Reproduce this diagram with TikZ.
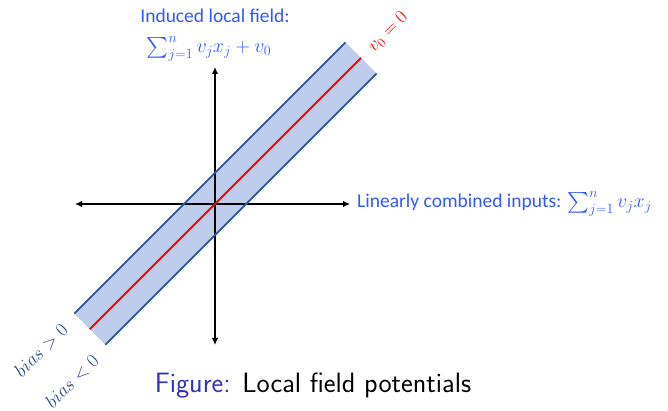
\RequirePackage{fix-cm}
\documentclass[tikz,border=0pt]{standalone}
\usepackage{exscale}
\usepackage{fontspec}
\newfontfamily\calibri{Carlito}
\usetikzlibrary{arrows.meta}
\definecolor{txtblue}{RGB}{48,88,255}
\definecolor{bandedge}{RGB}{47,85,151}
\definecolor{bandfill}{RGB}{190,205,235}
\definecolor{biasblue}{RGB}{40,72,140}
\definecolor{figblue}{RGB}{51,51,179}
\newcommand{\mfs}{\fontsize{20}{24}\selectfont}
\tikzset{
  axis/.style={line width=1.6pt, {Latex[length=7pt,width=6.5pt]}-{Latex[length=7pt,width=6.5pt]}},
  bandline/.style={line width=1.8pt, bandedge},
  lbl/.style={text=txtblue, font=\calibri\fontsize{19.5}{23}\selectfont, inner sep=0pt},
  rotlbl/.style={rotate=45, inner sep=0pt, font=\fontsize{19}{22}\selectfont},
}
\begin{document}
\begin{tikzpicture}[x=1pt,y=1pt]
\useasboundingbox (0,0) rectangle (668,411);
% axes
\coordinate (O) at (215,207);
\coordinate (L) at (75,207);
\coordinate (R) at (350,207);
\coordinate (T) at (215,344);
\coordinate (B) at (215,66);
% band
\begin{scope}[shift={(O)}, rotate=45]
  \fill[bandfill] (-177,-22) rectangle (206.5,22);
  \coordinate (ulA) at (-177,22);
  \coordinate (ulB) at (206.5,22);
  \coordinate (lrA) at (-177,-22);
  \coordinate (lrB) at (206.5,-22);
  \coordinate (cA) at (-177,0);
  \coordinate (cB) at (206.5,0);
\end{scope}
\draw[axis] (L) -- (R);
\draw[axis] (B) -- (T);
\draw[bandline] (ulA) -- (ulB);
\draw[bandline] (lrA) -- (lrB);
\draw[red, line width=1.8pt] (cA) -- (cB);
% labels
\node[lbl] (ilf) at (215,395) {Induced local field:};
\node[lbl] (ilfm) at (209,362) {\mfs$\sum_{j=1}^{n} v_j x_j + v_0$};
\node[lbl, anchor=west] (lci) at (357,207) {Linearly combined inputs:\hspace{6pt}\mfs$\sum_{j=1}^{n} v_j x_j$};
\node[rotlbl, text=red] (v0) at (388,379) {$v_0 = 0$};
\node[rotlbl, text=biasblue] (bpos) at (41,61) {$bias > 0$};
\node[rotlbl, text=biasblue] (bneg) at (72,30) {$bias < 0$};
\node[inner sep=0pt, font=\sffamily\fontsize{28}{31}\selectfont] (cap) at (313,25) {\textcolor{figblue}{Figure:} Local field potentials};
\end{tikzpicture}
\end{document}
